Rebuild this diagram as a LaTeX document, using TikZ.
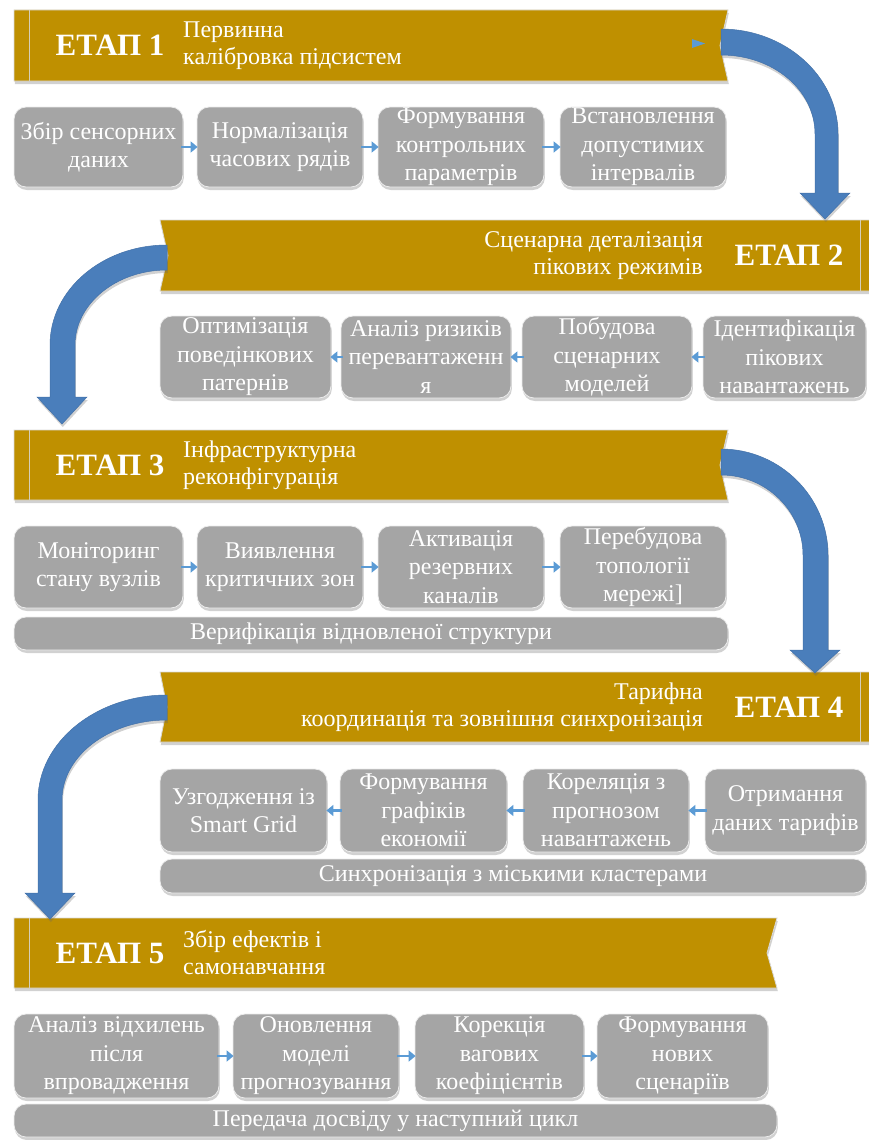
\documentclass[tikz,border=0pt]{standalone}
\usepackage{fontspec}
\setmainfont{Liberation Serif}
\usetikzlibrary{calc,shadows,arrows.meta}

\definecolor{gold}{HTML}{BF9000}
\definecolor{boxgray}{HTML}{A5A5A5}
\definecolor{flowblue}{HTML}{4A7EBB}
\definecolor{tipblue}{HTML}{5B9BD5}
\definecolor{edgegray}{HTML}{D9D9D9}

\tikzset{
  softshadow/.style={drop shadow={shadow xshift=0.8pt, shadow yshift=-3pt, opacity=0.3, fill=black!60}},
  banner/.style={fill=gold, draw=edgegray, line width=0.8pt, softshadow},
  stripe/.style={draw=edgegray!85!gold, line width=1pt},
  etap/.style={text=white, font=\fontsize{31}{34}\selectfont\bfseries, inner sep=0pt},
  subtitle/.style={text=white, font=\fontsize{24}{27}\selectfont, inner sep=0pt},
  stepbox/.style={fill=boxgray, draw=white!85!gray, line width=0.8pt, rounded corners=12pt,
    text=white, align=center, font=\fontsize{24}{28.5}\selectfont, inner sep=0pt, softshadow},
  flowtip/.style={draw=tipblue, line width=2.6pt, -{Triangle[length=7pt,width=11pt]},
    shorten <=-2pt, shorten >=-1pt},
  bigarrow/.style={fill=flowblue, draw=flowblue!90!black, line width=0.5pt, softshadow},
}

% box given by name, left, top, right, bottom, text
\newcommand\procbox[6]{%
  \node[stepbox, minimum width={#4-#2}, minimum height={#5-#3}] (#1)
    at ({(#2+#4)/2},{(#3+#5)/2}) {#6};}

\begin{document}
\begin{tikzpicture}[x=1pt,y=-1pt]
\useasboundingbox (0,0) rectangle (868,1140);

% ---------- stage banners ----------
\path[banner] (14,10) -- (728,10) -- (720,45.5) -- (728,81) -- (14,81) -- cycle;
\draw[stripe] (29,10) -- (29,81);
\fill[tipblue] (692,39) -- (705,43.5) -- (692,48) -- cycle;

\path[banner] (160,220) -- (870,220) -- (870,291) -- (160,291) -- (168,255.5) -- cycle;
\draw[stripe] (860,220) -- (860,291);

\path[banner] (14,430) -- (728,430) -- (720,465) -- (728,500) -- (14,500) -- cycle;
\draw[stripe] (29,430) -- (29,500);

\path[banner] (160,672) -- (870,672) -- (870,742) -- (160,742) -- (167,707) -- cycle;
\draw[stripe] (860,672) -- (860,742);

\path[banner] (14,918) -- (777,918) -- (767,953) -- (777,988) -- (14,988) -- cycle;
\draw[stripe] (29,918) -- (29,988);

% banner titles
\node[etap] (e1) at (110,45.5) {ЕТАП 1};
\node[subtitle, anchor=west, align=left] (s1) at (183,45.5) {Первинна\\калібровка підсистем};
\node[etap] (e2) at (789,255.5) {ЕТАП 2};
\node[subtitle, anchor=east, align=right] (s2) at (703,255.5) {Сценарна деталізація\\пікових режимів};
\node[etap] (e3) at (110,465) {ЕТАП 3};
\node[subtitle, anchor=west, align=left] (s3) at (183,465) {Інфраструктурна\\реконфігурація};
\node[etap] (e4) at (789,707) {ЕТАП 4};
\node[subtitle, anchor=east, align=right] (s4) at (703,707) {Тарифна\\координація та зовнішня синхронізація};
\node[etap] (e5) at (110,953) {ЕТАП 5};
\node[subtitle, anchor=west, align=left] (s5) at (183,953) {Збір ефектів і\\самонавчання};

% ---------- stage 1 ----------
\procbox{p11}{14}{107}{183}{187}{Збір сенсорних\\даних}
\procbox{p12}{197}{107}{363}{187}{Нормалізація\\часових рядів}
\procbox{p13}{378}{107}{544}{187}{Формування\\контрольних\\параметрів}
\procbox{p14}{560}{107}{726}{187}{Встановлення\\допустимих\\інтервалів}
\draw[flowtip] (p11) -- (p12);
\draw[flowtip] (p12) -- (p13);
\draw[flowtip] (p13) -- (p14);

% ---------- stage 2 ----------
\procbox{p21}{160}{316}{331}{398}{Оптимізація\\поведінкових\\патернів}
\procbox{p22}{341}{316}{511}{398}{Аналіз ризиків\\перевантаженн\\я}
\procbox{p23}{522}{316}{692}{398}{Побудова\\сценарних\\моделей}
\procbox{p24}{703}{316}{866}{398}{Ідентифікація\\пікових\\навантажень}
\draw[flowtip] (p24) -- (p23);
\draw[flowtip] (p23) -- (p22);
\draw[flowtip] (p22) -- (p21);

% ---------- stage 3 ----------
\procbox{p31}{14}{526}{183}{608}{Моніторинг\\стану вузлів}
\procbox{p32}{197}{526}{363}{608}{Виявлення\\критичних зон}
\procbox{p33}{378}{526}{544}{608}{Активація\\резервних\\каналів}
\procbox{p34}{560}{526}{726}{608}{Перебудова\\топології\\мережі]}
\procbox{w3}{14}{617}{728}{650}{Верифікація відновленої структури}
\draw[flowtip] (p31) -- (p32);
\draw[flowtip] (p32) -- (p33);
\draw[flowtip] (p33) -- (p34);

% ---------- stage 4 ----------
\procbox{p41}{160}{769}{327}{852}{Узгодження із\\Smart Grid}
\procbox{p42}{340}{769}{507}{852}{Формування\\графіків\\економії}
\procbox{p43}{523}{769}{689}{852}{Кореляція з\\прогнозом\\навантажень}
\procbox{p44}{705}{769}{866}{852}{Отримання\\даних тарифів}
\procbox{w4}{160}{859}{866}{893}{Синхронізація з міськими кластерами}
\draw[flowtip] (p44) -- (p43);
\draw[flowtip] (p43) -- (p42);
\draw[flowtip] (p42) -- (p41);

% ---------- stage 5 ----------
\procbox{p51}{14}{1014}{219}{1098}{Аналіз відхилень\\після\\впровадження}
\procbox{p52}{233}{1014}{399}{1098}{Оновлення\\моделі\\прогнозування}
\procbox{p53}{415}{1014}{584}{1098}{Корекція\\вагових\\коефіцієнтів}
\procbox{p54}{597}{1014}{768}{1098}{Формування\\нових\\сценаріїв}
\procbox{w5}{14}{1104}{777}{1137}{Передача досвіду у наступний цикл}
\draw[flowtip] (p51) -- (p52);
\draw[flowtip] (p52) -- (p53);
\draw[flowtip] (p53) -- (p54);

% ---------- curved transitions between stages ----------
\coordinate (n1) at (720,42);   \coordinate (t1) at (825,219);
\coordinate (n2) at (167,257.5); \coordinate (t2) at (62,424);
\coordinate (n3) at (720,462);  \coordinate (t3) at (815,673);
\coordinate (n4) at (167,707.5); \coordinate (t4) at (50,919);

\path[bigarrow] ($(n1)+(1,-13)$) .. controls (785,29) and (838,76) .. (838,134)
  -- (838,193) -- (850,193) -- (t1) -- (800,193) -- (815,193) -- (815,134)
  .. controls (815,90) and (773,55) .. ($(n1)+(1,13)$) -- cycle;

\path[bigarrow] ($(n2)+(0,-12.5)$) .. controls (102,245) and (50,290) .. (50,345)
  -- (50,397) -- (37,397) -- (t2) -- (87,397) -- (75,397) -- (75,345)
  .. controls (75,304) and (116,270) .. ($(n2)+(0,12.5)$) -- cycle;

\path[bigarrow] ($(n3)+(1,-13)$) .. controls (780,449) and (828,497) .. (828,555)
  -- (828,650) -- (840,650) -- (t3) -- (790,650) -- (803,650) -- (803,555)
  .. controls (803,511) and (766,475) .. ($(n3)+(1,13)$) -- cycle;

\path[bigarrow] ($(n4)+(0,-12.5)$) .. controls (96,695) and (38,742) .. (38,800)
  -- (38,893) -- (25,893) -- (t4) -- (75,893) -- (62,893) -- (62,800)
  .. controls (62,756) and (109,720) .. ($(n4)+(0,12.5)$) -- cycle;

\end{tikzpicture}
\end{document}
